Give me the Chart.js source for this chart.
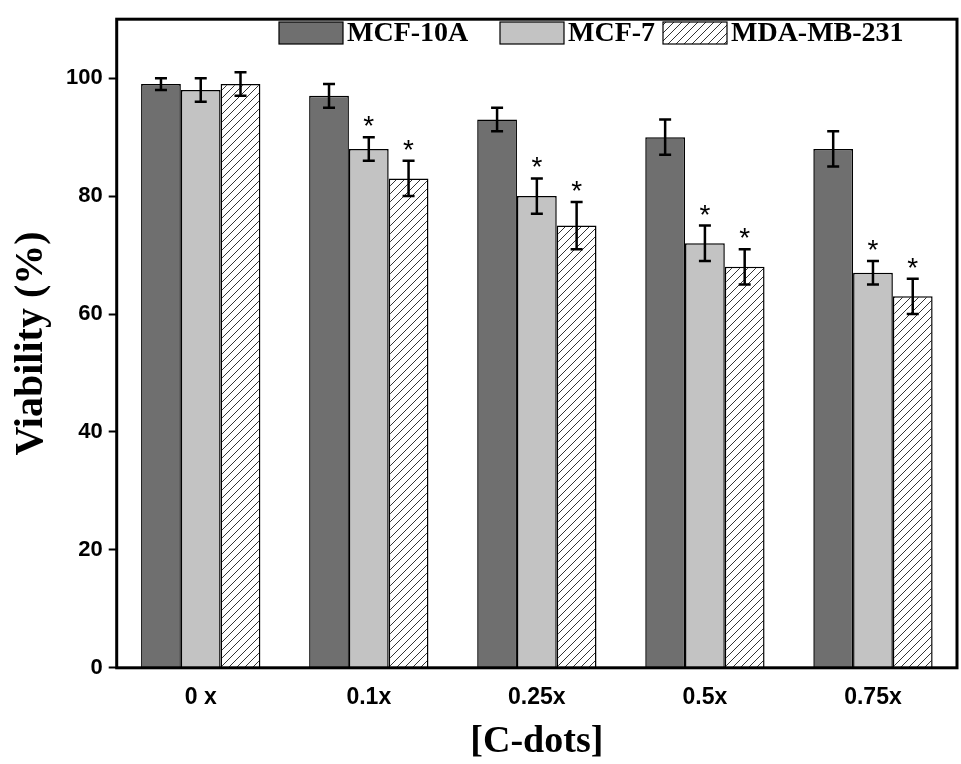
<!DOCTYPE html>
<html><head><meta charset="utf-8">
<script src="https://cdn.jsdelivr.net/npm/chart.js@4/dist/chart.umd.min.js"></script>
<style>html,body{margin:0;background:#fff}#wrap{width:961px;height:764px}</style>
</head><body><div id="wrap"><canvas id="c"></canvas></div>
<script>
// data
const categories = ['0 x', '0.1x', '0.25x', '0.5x', '0.75x'];
const seriesNames = ['MCF-10A', 'MCF-7', 'MDA-MB-231'];
const mcf10a = [99, 97, 93, 90, 88];
const mcf10aErr = [1, 2, 2, 3, 3];
const mcf7 = [98, 88, 80, 72, 67];
const mcf7Err = [2, 2, 3, 3, 2];
const mda = [99, 83, 75, 68, 63];
const mdaErr = [2, 3, 4, 3, 3];
const starred = [false, true, true, true, true];
const yTicks = [0, 20, 40, 60, 80, 100];

function hatch() {
  const p = document.createElement('canvas');
  p.width = 8; p.height = 8;
  const g = p.getContext('2d');
  g.fillStyle = '#fff'; g.fillRect(0, 0, 8, 8);
  g.strokeStyle = '#000'; g.lineWidth = 0.8;
  g.beginPath();
  g.moveTo(0, 8); g.lineTo(8, 0);
  g.moveTo(-2, 2); g.lineTo(2, -2);
  g.moveTo(6, 10); g.lineTo(10, 6);
  g.stroke();
  return g.createPattern(p, 'repeat');
}
const fills = ['#6f6f6f', '#c3c3c3', hatch()];
const errs = [mcf10aErr, mcf7Err, mdaErr];

// error bars, asterisks, frame and legend
const extras = {
  id: 'extras',
  afterDatasetsDraw(chart) {
    const ctx = chart.ctx, y = chart.scales.y, a = chart.chartArea;
    ctx.save();
    ctx.strokeStyle = '#000'; ctx.lineWidth = 2.5;
    chart.data.datasets.forEach((ds, di) => {
      chart.getDatasetMeta(di).data.forEach((bar, i) => {
        const v = ds.data[i], e = errs[di][i];
        const top = y.getPixelForValue(v + e), bot = y.getPixelForValue(v - e);
        ctx.beginPath();
        ctx.moveTo(bar.x, top); ctx.lineTo(bar.x, bot);
        ctx.moveTo(bar.x - 6, top); ctx.lineTo(bar.x + 6, top);
        ctx.moveTo(bar.x - 6, bot); ctx.lineTo(bar.x + 6, bot);
        ctx.stroke();
        if (di > 0 && starred[i]) {
          ctx.fillStyle = '#000';
          ctx.font = '28px "Liberation Sans"';
          ctx.textAlign = 'center';
          ctx.fillText('*', bar.x, top - 2);
        }
      });
    });
    ctx.lineWidth = 3;
    ctx.strokeRect(a.left, a.top, a.right - a.left, a.bottom - a.top);
    // legend
    const lx = [279, 500, 663], lw = 64, lh = 22, ly = 22;
    ctx.lineWidth = 1.2;
    ctx.font = 'bold 28px "Liberation Serif"';
    ctx.textAlign = 'left'; ctx.textBaseline = 'middle';
    seriesNames.forEach((n, i) => {
      ctx.fillStyle = fills[i];
      ctx.fillRect(lx[i], ly, lw, lh);
      ctx.strokeRect(lx[i], ly, lw, lh);
      ctx.fillStyle = '#000';
      ctx.fillText(n, lx[i] + lw + 4, ly + lh / 2 + 1);
    });
    ctx.restore();
  }
};

new Chart(document.getElementById('c'), {
  type: 'bar',
  data: {
    labels: categories,
    datasets: [
      { label: seriesNames[0], data: mcf10a },
      { label: seriesNames[1], data: mcf7 },
      { label: seriesNames[2], data: mda }
    ].map((d, i) => Object.assign(d, {
      backgroundColor: fills[i], borderColor: '#000', borderWidth: 1.5,
      barPercentage: 1, categoryPercentage: 0.71
    }))
  },
  options: {
    responsive: true, maintainAspectRatio: false, animation: false,
    layout: { padding: { top: 12, right: 4, left: 4, bottom: 0 } },
    plugins: { legend: { display: false }, tooltip: { enabled: false } },
    scales: {
      x: {
        grid: { display: false },
        border: { display: false },
        ticks: { color: '#000', font: { family: 'Liberation Sans', weight: 'bold', size: 23 }, padding: 8 },
        title: { display: true, text: '[C-dots]', color: '#000', padding: { top: 0, bottom: -1 },
          font: { family: 'Liberation Serif', weight: 'bold', size: 38 } }
      },
      y: {
        min: 0, max: 110,
        afterBuildTicks: s => { s.ticks = yTicks.map(v => ({ value: v })); },
        grid: { drawOnChartArea: false, drawTicks: true, tickLength: 8, color: '#000', tickColor: '#000', tickWidth: 2 },
        border: { display: false },
        ticks: { color: '#000', font: { family: 'Liberation Sans', weight: 'bold', size: 22 }, padding: 6 },
        title: { display: true, text: 'Viability (%)', color: '#000', padding: 4,
          font: { family: 'Liberation Serif', weight: 'bold', size: 40 } }
      }
    }
  },
  plugins: [extras]
});
</script></body></html>
